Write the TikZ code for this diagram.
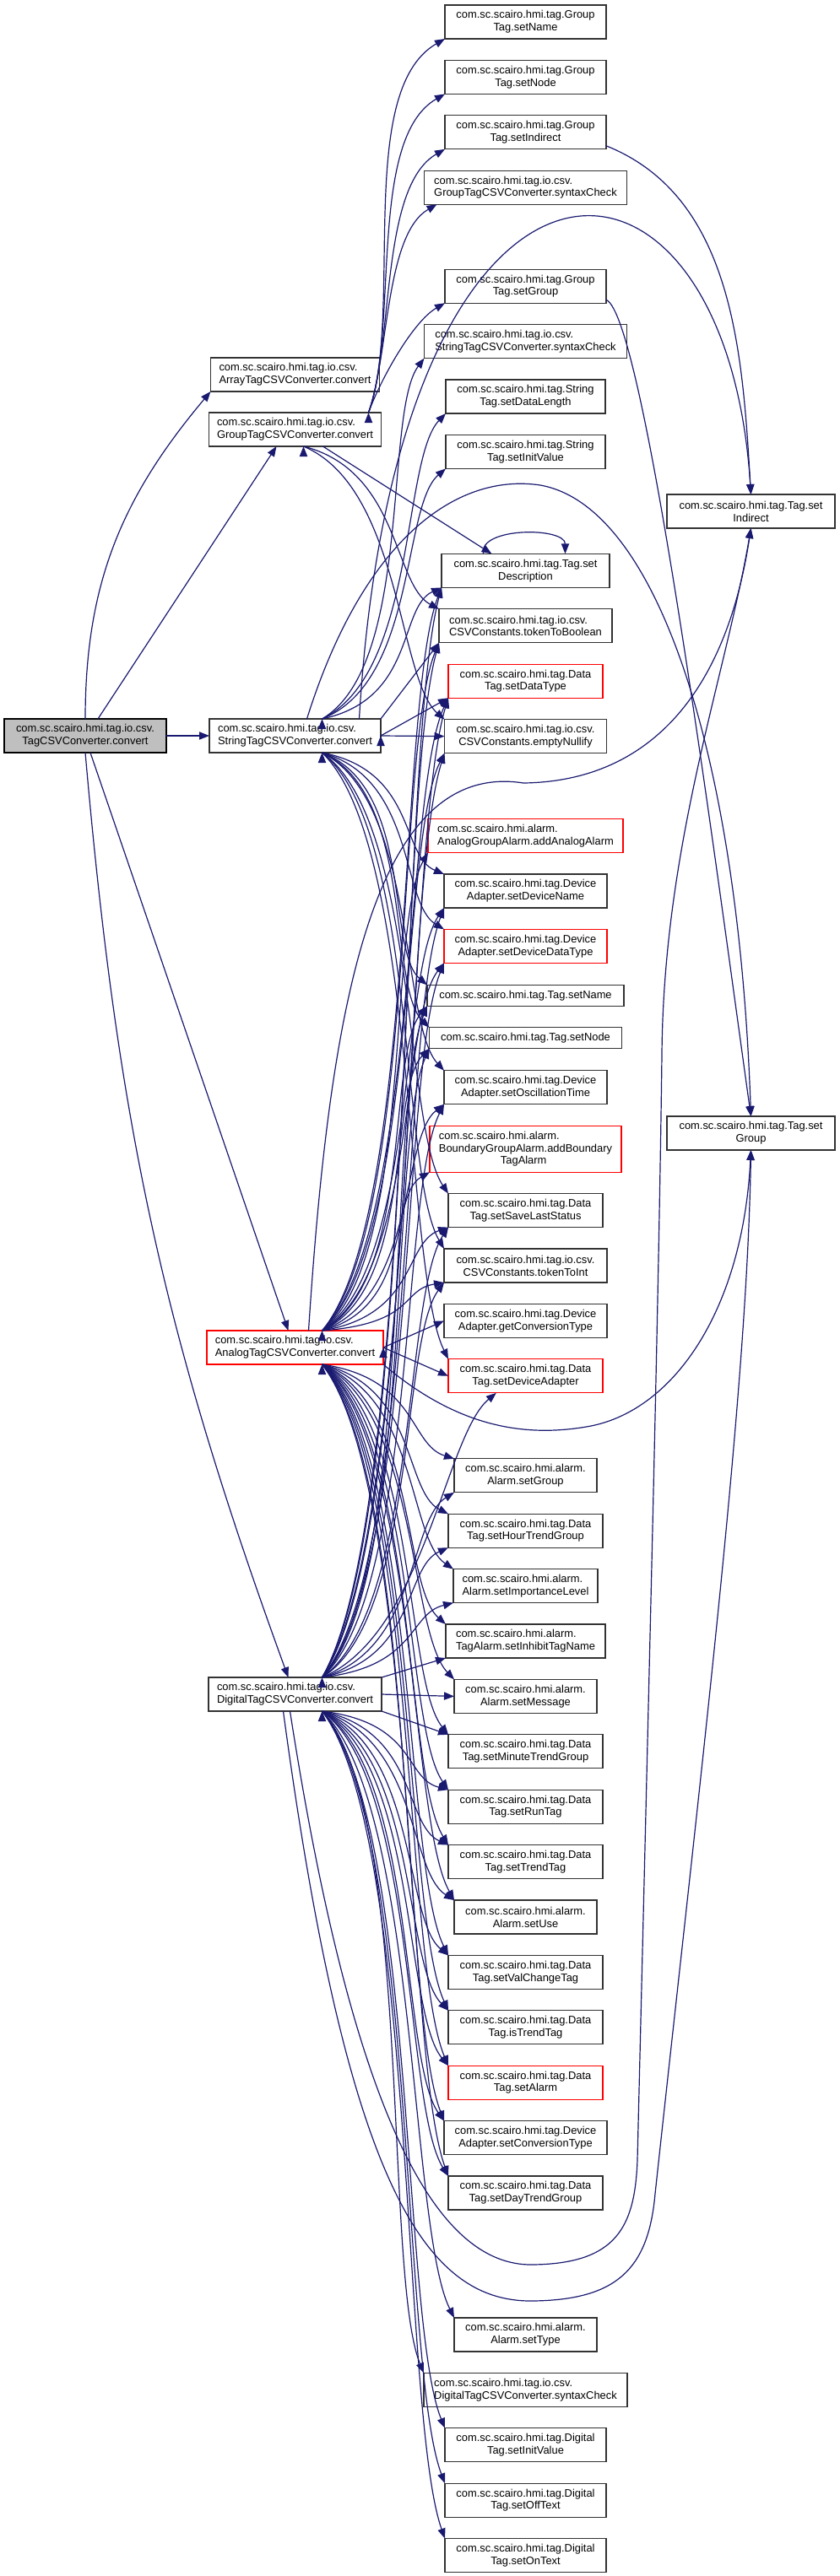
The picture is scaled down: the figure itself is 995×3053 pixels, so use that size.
\documentclass[tikz,border=0pt]{standalone}
\usepackage{fontspec}
\setmainfont{Liberation Sans}
\usepackage{xcolor}
\usetikzlibrary{positioning,arrows.meta,calc}
\definecolor{callblue}{HTML}{191970}
\definecolor{rootgray}{HTML}{BFBFBF}

\begin{document}
\begin{tikzpicture}[
  x=0.25pt, y=0.25pt,
  font=\fontsize{3.225}{3.7}\selectfont,
  node distance=6.35pt,
  fn/.style={draw=black!80, line width=0.3pt, fill=white, align=center, inner xsep=2pt, inner ysep=0.5pt, outer sep=0pt, minimum height=10pt},
  fnl/.style={fn, align=left},
  hot/.style={draw=red},
  call/.style={-{Triangle[length=3pt,width=2.3pt]}, color=callblue, line width=0.3pt},
  riseto/.style={to path={.. controls ($(\tikztostart)!0.15!(\tikztotarget)+(90,0)$) and ($(\tikztostart)!0.85!(\tikztotarget)+(-30,0)$) .. (\tikztotarget)}},
  dropto/.style={riseto}
]
\useasboundingbox (0,0) rectangle (995,-3053);

% callers
\node[fn, fill=rootgray, draw=black, minimum width=48pt] (tagconv) at (101,-872) {com.sc.scairo.hmi.tag.io.csv.\\TagCSVConverter.convert};
\node[fnl, minimum width=50.75pt, right=12.75pt of tagconv] (strconv) {com.sc.scairo.hmi.tag.io.csv.\\StringTagCSVConverter.convert};
\node[fnl, minimum width=51pt, above=80.75pt of strconv] (groupconv) {com.sc.scairo.hmi.tag.io.csv.\\GroupTagCSVConverter.convert};
\node[fnl, minimum width=50pt, above=6.25pt of groupconv] (arrayconv) {com.sc.scairo.hmi.tag.io.csv.\\ArrayTagCSVConverter.convert};
\node[fnl, hot, minimum width=52.25pt, below=171.25pt of strconv] (anaconv) {com.sc.scairo.hmi.tag.io.csv.\\AnalogTagCSVConverter.convert};
\node[fnl, minimum width=51.25pt, below=92.75pt of anaconv] (digiconv) {com.sc.scairo.hmi.tag.io.csv.\\DigitalTagCSVConverter.convert};

% Tag setters on the right
\node[fn, minimum width=49.75pt] (tagindirect) at (889.5,-606) {com.sc.scairo.hmi.tag.Tag.set\\Indirect};
\node[fn, minimum width=49.75pt, below=174.25pt of tagindirect] (taggroup) {com.sc.scairo.hmi.tag.Tag.set\\Group};

% callees
\node[fn, minimum width=47.75pt] (gtname) at (622.5,-26) {com.sc.scairo.hmi.tag.Group\\Tag.setName};
\node[fn, minimum width=47.75pt, below=of gtname] (gtnode) {com.sc.scairo.hmi.tag.Group\\Tag.setNode};
\node[fn, minimum width=47.75pt, below=of gtnode] (gtindirect) {com.sc.scairo.hmi.tag.Group\\Tag.setIndirect};
\node[fnl, minimum width=60pt, below=of gtindirect] (gcheck) {com.sc.scairo.hmi.tag.io.csv.\\GroupTagCSVConverter.syntaxCheck};
\node[fn, minimum width=47.75pt, below=19.25pt of gcheck] (gtgroup) {com.sc.scairo.hmi.tag.Group\\Tag.setGroup};
\node[fnl, minimum width=60pt, below=of gtgroup] (scheck) {com.sc.scairo.hmi.tag.io.csv.\\StringTagCSVConverter.syntaxCheck};
\node[fn, minimum width=47.25pt, below=of scheck] (stlength) {com.sc.scairo.hmi.tag.String\\Tag.setDataLength};
\node[fn, minimum width=47.25pt, below=of stlength] (stinit) {com.sc.scairo.hmi.tag.String\\Tag.setInitValue};
\node[fn, minimum width=49.75pt, below=25.25pt of stinit] (desc) {com.sc.scairo.hmi.tag.Tag.set\\Description};
\node[fnl, minimum width=51.25pt, below=of desc] (tobool) {com.sc.scairo.hmi.tag.io.csv.\\CSVConstants.tokenToBoolean};
\node[fn, hot, minimum width=45.75pt, below=of tobool] (dtype) {com.sc.scairo.hmi.tag.Data\\Tag.setDataType};
\node[fn, minimum width=48pt, below=of dtype] (nullify) {com.sc.scairo.hmi.tag.io.csv.\\CSVConstants.emptyNullify};
\node[fnl, hot, minimum width=57.75pt, below=19.5pt of nullify] (addanalog) {com.sc.scairo.hmi.alarm.\\AnalogGroupAlarm.addAnalogAlarm};
\node[fn, minimum width=48.25pt, below=of addanalog] (devname) {com.sc.scairo.hmi.tag.Device\\Adapter.setDeviceName};
\node[fn, hot, minimum width=48.25pt, below=of devname] (devdtype) {com.sc.scairo.hmi.tag.Device\\Adapter.setDeviceDataType};
\node[fn, minimum width=58.25pt, minimum height=6.25pt, below=6.5pt of devdtype] (tname) {com.sc.scairo.hmi.tag.Tag.setName};
\node[fn, minimum width=57pt, minimum height=6.25pt, below=of tname] (tnode) {com.sc.scairo.hmi.tag.Tag.setNode};
\node[fn, minimum width=48.25pt, below=6.5pt of tnode] (osc) {com.sc.scairo.hmi.tag.Device\\Adapter.setOscillationTime};
\node[fnl, hot, minimum width=56.75pt, minimum height=13.75pt, below=of osc] (addbound) {com.sc.scairo.hmi.alarm.\\BoundaryGroupAlarm.addBoundary\\\hspace*{18.25pt}TagAlarm};
\node[fn, minimum width=45.75pt, below=of addbound] (savelast) {com.sc.scairo.hmi.tag.Data\\Tag.setSaveLastStatus};
\node[fn, minimum width=48.25pt, below=of savelast] (toint) {com.sc.scairo.hmi.tag.io.csv.\\CSVConstants.tokenToInt};
\node[fn, minimum width=48.25pt, below=of toint] (getconv) {com.sc.scairo.hmi.tag.Device\\Adapter.getConversionType};
\node[fn, hot, minimum width=45.75pt, below=of getconv] (devadapter) {com.sc.scairo.hmi.tag.Data\\Tag.setDeviceAdapter};
\node[fn, minimum width=42.25pt, below=19.5pt of devadapter] (agroup) {com.sc.scairo.hmi.alarm.\\Alarm.setGroup};
\node[fn, minimum width=45.75pt, below=of agroup] (hourtrend) {com.sc.scairo.hmi.tag.Data\\Tag.setHourTrendGroup};
\node[fnl, minimum width=42.75pt, below=of hourtrend] (importance) {com.sc.scairo.hmi.alarm.\\Alarm.setImportanceLevel};
\node[fnl, minimum width=47.25pt, below=of importance] (inhibit) {com.sc.scairo.hmi.alarm.\\TagAlarm.setInhibitTagName};
\node[fn, minimum width=42.25pt, below=of inhibit] (message) {com.sc.scairo.hmi.alarm.\\Alarm.setMessage};
\node[fn, minimum width=45.75pt, below=of message] (minutetrend) {com.sc.scairo.hmi.tag.Data\\Tag.setMinuteTrendGroup};
\node[fn, minimum width=45.75pt, below=of minutetrend] (runtag) {com.sc.scairo.hmi.tag.Data\\Tag.setRunTag};
\node[fn, minimum width=45.75pt, below=of runtag] (trendtag) {com.sc.scairo.hmi.tag.Data\\Tag.setTrendTag};
\node[fn, minimum width=42.25pt, below=of trendtag] (use) {com.sc.scairo.hmi.alarm.\\Alarm.setUse};
\node[fn, minimum width=45.75pt, below=of use] (valchange) {com.sc.scairo.hmi.tag.Data\\Tag.setValChangeTag};
\node[fn, minimum width=45.75pt, below=of valchange] (istrend) {com.sc.scairo.hmi.tag.Data\\Tag.isTrendTag};
\node[fn, hot, minimum width=45.75pt, below=of istrend] (alarm) {com.sc.scairo.hmi.tag.Data\\Tag.setAlarm};
\node[fn, minimum width=48.25pt, below=of alarm] (setconv) {com.sc.scairo.hmi.tag.Device\\Adapter.setConversionType};
\node[fn, minimum width=45.75pt, below=of setconv] (daytrend) {com.sc.scairo.hmi.tag.Data\\Tag.setDayTrendGroup};
\node[fn, minimum width=42.25pt, below=32pt of daytrend] (atype) {com.sc.scairo.hmi.alarm.\\Alarm.setType};
\node[fnl, minimum width=60.25pt, below=of atype] (dcheck) {com.sc.scairo.hmi.tag.io.csv.\\DigitalTagCSVConverter.syntaxCheck};
\node[fn, minimum width=47.75pt, below=of dcheck] (dtinit) {com.sc.scairo.hmi.tag.Digital\\Tag.setInitValue};
\node[fn, minimum width=47.75pt, below=of dtinit] (offtext) {com.sc.scairo.hmi.tag.Digital\\Tag.setOffText};
\node[fn, minimum width=47.75pt, below=of offtext] (ontext) {com.sc.scairo.hmi.tag.Digital\\Tag.setOnText};

% where the fans leave their callers
\coordinate (groupout) at ([xshift=-3.75pt]groupconv.north east);
\coordinate (groupbot) at ([xshift=2.5pt]groupconv.south);
\coordinate (strtop) at ([xshift=8pt]strconv.north);
\coordinate (strbot) at ([xshift=8pt]strconv.south);
\coordinate (anatop) at ([xshift=8pt]anaconv.north);
\coordinate (anabot) at ([xshift=8pt]anaconv.south);
\coordinate (digitop) at ([xshift=8pt]digiconv.north);
\coordinate (digibot) at ([xshift=8pt]digiconv.south);

% TagCSVConverter.convert
\draw[call] (tagconv.north) to[out=90, in=230] (arrayconv.south west);
\draw[call] ([xshift=3.75pt]tagconv.north) -- ([xshift=-5.5pt]groupconv.south);
\draw[call] (tagconv) -- (strconv);
\draw[call] ([xshift=1.5pt]tagconv.south) -- ([xshift=-2pt]anaconv.north);
\draw[call] (tagconv.south) to[out=-85, in=110] ([xshift=-2pt]digiconv.north);

% GroupTagCSVConverter.convert
\draw[call] (groupout)
  edge[out=70, in=210, looseness=0.7] (gtname.south west)
  edge[out=70, in=210, looseness=0.7] (gtnode.south west)
  edge[out=70, in=210, looseness=0.7] (gtindirect.south west)
  edge[out=70, in=210, looseness=0.7] ([xshift=3.75pt]gcheck.south west)
  edge[out=70, in=210, looseness=0.7] (gtgroup.south west);
\draw[call] ([xshift=8.25pt]groupconv.south) -- ([xshift=-10pt]desc.north);
\draw[call] (groupbot) edge[dropto] (tobool.north west) edge[dropto] (nullify.north west);

% GroupTag -> Tag
\draw[call] ([yshift=1pt]gtindirect.south east) .. controls +(150,-60) and +(-10,170) .. (tagindirect.north);
\draw[call] ([yshift=1pt]gtgroup.south east) .. controls +(45,-20) and +(-45,323) .. (taggroup.north);
\draw[call] ([xshift=-12.5pt]desc.north) .. controls +(-6,32) and +(0,32) .. ([xshift=11.75pt]desc.north);

% StringTagCSVConverter.convert
\draw[call] (strtop)
  edge[riseto] (scheck.south west) edge[riseto] (stlength.south west)
  edge[riseto] (stinit.south west) edge[riseto] (desc.south west);
\draw[call] (strconv.north east) -- (tobool.south west);
\draw[call] (strconv.east) edge (dtype.south west) edge (nullify.west);
\draw[call] (strbot)
  edge[dropto] (devname.north west) edge[dropto] (devdtype.north west)
  edge[dropto] (tname.north west) edge[dropto] (tnode.north west)
  edge[dropto] (osc.north west) edge[dropto] (savelast.north west)
  edge[dropto] (toint.north west) edge[dropto] (devadapter.north west);
\draw[call] ([xshift=19pt]strconv.north) .. controls (470,-100) and (860,-120) .. (tagindirect.north);
\draw[call] ([xshift=3.5pt]strconv.north) .. controls (430,-640) and (540,-560) .. (640,-575)
  .. controls (780,-600) and (875,-900) .. (taggroup.north);

% AnalogTagCSVConverter.convert
\draw[call] (anatop)
  edge[riseto] (desc.south west) edge[riseto] (tobool.south west)
  edge[riseto] (dtype.south west) edge[riseto] (nullify.south west)
  edge[riseto] (addanalog.south west) edge[riseto] (devname.south west)
  edge[riseto] (devdtype.south west) edge[riseto] (tname.south west)
  edge[riseto] (tnode.south west) edge[riseto] (osc.south west)
  edge[riseto] (addbound.south west) edge[riseto] (savelast.south west)
  edge[riseto] (toint.south west);
\draw[call] (anaconv.east) edge (getconv.west) edge (devadapter.west);
\draw[call] (anabot)
  edge[dropto] (agroup.north west) edge[dropto] (hourtrend.north west)
  edge[dropto] (importance.north west) edge[dropto] (inhibit.north west)
  edge[dropto] (message.north west) edge[dropto] (minutetrend.north west)
  edge[dropto] (runtag.north west) edge[dropto] (trendtag.north west)
  edge[dropto] (use.north west) edge[dropto] (valchange.north west)
  edge[dropto] (istrend.north west) edge[dropto] (alarm.north west)
  edge[dropto] (setconv.north west) edge[dropto] (daytrend.north west);
\draw[call] ([xshift=4pt]anaconv.north) .. controls (390,-1200) and (440,-900) .. (620,-928)
  .. controls (770,-926) and (860,-820) .. (tagindirect.south);
\draw[call] (anaconv.south east) .. controls (540,-1690) and (620,-1705) .. (700,-1690)
  .. controls (800,-1670) and (880,-1550) .. (taggroup.south);

% DigitalTagCSVConverter.convert
\draw[call] (digitop)
  edge[riseto] (desc.south west) edge[riseto] (tobool.south west)
  edge[riseto] (dtype.south west) edge[riseto] (nullify.south west)
  edge[riseto] (devname.south west) edge[riseto] (devdtype.south west)
  edge[riseto] (tname.south west) edge[riseto] (tnode.south west)
  edge[riseto] (osc.south west) edge[riseto] (savelast.south west)
  edge[riseto] (toint.south west) edge[riseto] (devadapter.-150)
  edge[riseto] (agroup.south west) edge[riseto] (hourtrend.south west)
  edge[riseto] (importance.south west);
\draw[call] (digiconv.north east) -- (inhibit.south west);
\draw[call] (digiconv.east) -- (message.west);
\draw[call] (digiconv.south east) -- (minutetrend.north west);
\draw[call] (digibot)
  edge[dropto] (runtag.north west) edge[dropto] (trendtag.north west)
  edge[dropto] (use.north west) edge[dropto] (valchange.north west)
  edge[dropto] (istrend.north west) edge[dropto] (alarm.north west)
  edge[dropto] (setconv.north west) edge[dropto] (daytrend.north west)
  edge[dropto] (atype.north west) edge[dropto] (dcheck.north west)
  edge[dropto] (dtinit.north west) edge[dropto] (offtext.north west)
  edge[dropto] (ontext.north west);
\draw[call] ([xshift=-1.5pt]digiconv.south) .. controls (420,-2520) and (520,-2685) .. (630,-2684)
  .. controls (730,-2683) and (752,-2640) .. (755,-2560)
  .. controls (771,-1900) and (781,-1500) .. (784,-1250)
  .. controls (786,-1000) and (860,-800) .. (tagindirect.south);
\draw[call] ([xshift=-3.5pt]digiconv.south) .. controls (410,-2580) and (500,-2728) .. (630,-2727)
  .. controls (730,-2726) and (768,-2690) .. (776,-2600)
  .. controls (830,-2100) and (885,-1650) .. (taggroup.south);
\end{tikzpicture}
\end{document}
